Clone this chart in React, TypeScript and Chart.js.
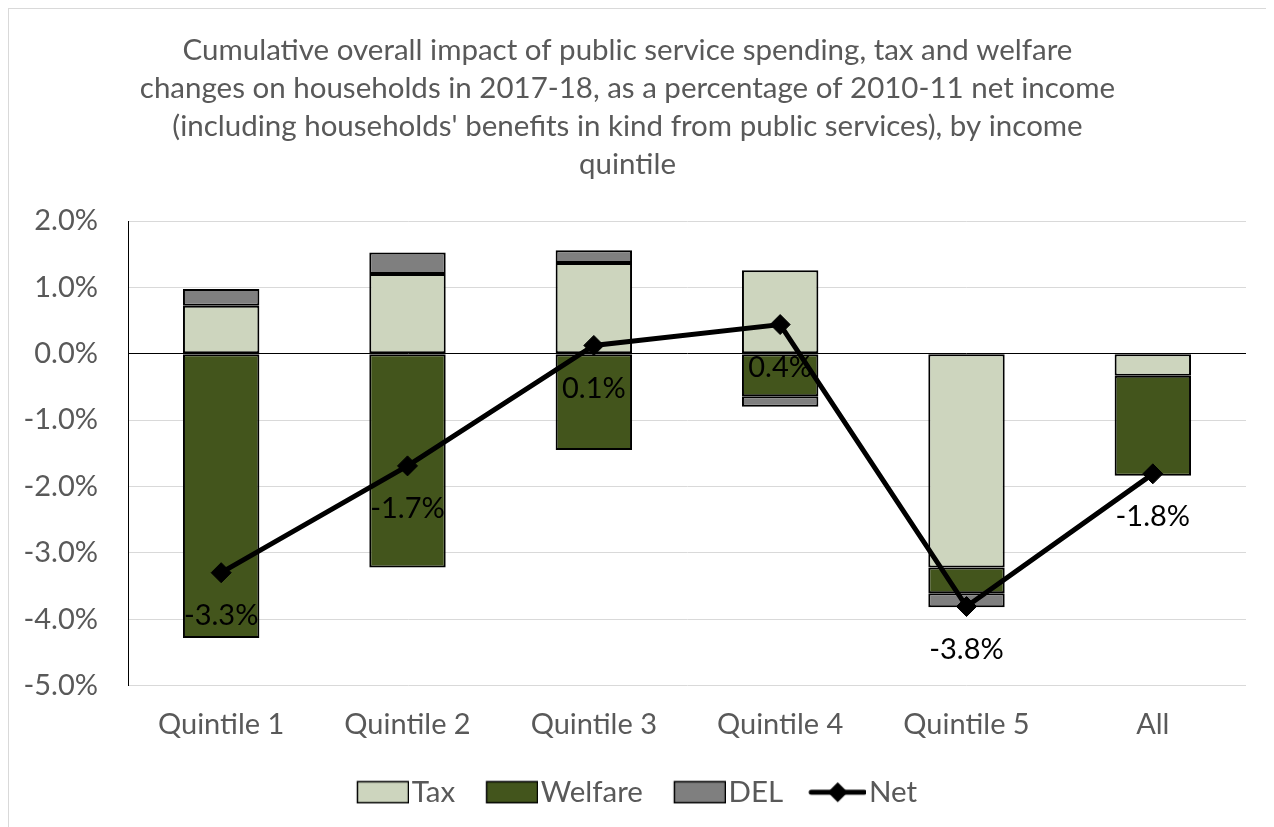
import React, { useEffect, useRef } from "react";
import { Chart, registerables } from "chart.js";

Chart.register(...registerables);

const categories = ["Quintile 1", "Quintile 2", "Quintile 3", "Quintile 4", "Quintile 5", "All"];
const taxValues = [0.725, 1.2, 1.366, 1.26, -3.22, -0.33];
const welfareValues = [-4.285, -3.22, -1.45, -0.64, -0.39, -1.51];
const delValues = [0.25, 0.325, 0.195, -0.16, -0.21, 0];
const netValues = [-3.3, -1.69, 0.125, 0.44, -3.81, -1.81];
const seriesNames = ["Tax", "Welfare", "DEL", "Net"];
const titleLines = [
  "Cumulative overall impact of public service spending, tax and welfare",
  "changes on households in 2017-18, as a percentage of 2010-11 net income",
  "(including households' benefits in kind from public services), by income",
  "quintile",
];
const yMin = -5;
const yMax = 2;
const yStep = 1;

const FONT = "Lato, 'Open Sans', sans-serif";
const TEXT_GREY = "#595959";
const COLORS = ["#CDD5BE", "#43551C", "#7F7F7F", "#000000"];

function makeBoxIcon(color: string): HTMLCanvasElement {
  const c = document.createElement("canvas");
  c.width = 83;
  c.height = 24;
  const ctx = c.getContext("2d")!;
  ctx.fillStyle = color;
  ctx.fillRect(31.5, 1.5, 51, 21);
  ctx.strokeStyle = "#000";
  ctx.lineWidth = 1.5;
  ctx.strokeRect(31.5, 1.5, 51, 21);
  return c;
}

function makeLineIcon(): HTMLCanvasElement {
  const c = document.createElement("canvas");
  c.width = 83;
  c.height = 24;
  const ctx = c.getContext("2d")!;
  ctx.strokeStyle = "#000";
  ctx.lineWidth = 5;
  ctx.lineCap = "round";
  ctx.beginPath();
  ctx.moveTo(28, 12);
  ctx.lineTo(81, 12);
  ctx.stroke();
  ctx.fillStyle = "#000";
  ctx.beginPath();
  ctx.moveTo(54.5, 2);
  ctx.lineTo(64.5, 12);
  ctx.lineTo(54.5, 22);
  ctx.lineTo(44.5, 12);
  ctx.closePath();
  ctx.fill();
  return c;
}

const netLabelPlugin = {
  id: "netLabels",
  afterDatasetsDraw(chart: any) {
    const meta = chart.getDatasetMeta(3);
    const ctx = chart.ctx;
    ctx.save();
    ctx.font = `29px ${FONT}`;
    ctx.fillStyle = "#000";
    ctx.textAlign = "center";
    ctx.textBaseline = "middle";
    meta.data.forEach((el: any, i: number) => {
      const v = netValues[i];
      ctx.fillText(v.toFixed(1) + "%", el.x, el.y + 43);
    });
    ctx.restore();
  },
};

export default function App() {
  const ref = useRef<HTMLCanvasElement | null>(null);

  useEffect(() => {
    if (!ref.current) return;
    const icons = [
      makeBoxIcon(COLORS[0]),
      makeBoxIcon(COLORS[1]),
      makeBoxIcon(COLORS[2]),
      makeLineIcon(),
    ];
    const barCommon = {
      type: "bar" as const,
      borderColor: "#000",
      borderWidth: 2,
      borderSkipped: false,
      categoryPercentage: 1,
      barPercentage: 0.41,
      stack: "s",
      order: 1,
    };
    const chart = new Chart(ref.current, {
      data: {
        labels: categories,
        datasets: [
          { ...barCommon, label: seriesNames[0], data: taxValues, backgroundColor: COLORS[0] },
          { ...barCommon, label: seriesNames[1], data: welfareValues, backgroundColor: COLORS[1] },
          { ...barCommon, label: seriesNames[2], data: delValues, backgroundColor: COLORS[2] },
          {
            type: "line",
            label: seriesNames[3],
            data: netValues,
            borderColor: "#000",
            backgroundColor: "#000",
            borderWidth: 5,
            pointStyle: "rectRot",
            pointRadius: 10,
            pointBorderWidth: 1,
            pointBackgroundColor: "#000",
            pointBorderColor: "#000",
            stack: "n",
            order: 0,
            tension: 0,
          } as any,
        ],
      },
      options: {
        animation: false,
        responsive: false,
        devicePixelRatio: 1,
        layout: { padding: { left: 0, right: 28, top: 0, bottom: 10 } },
        plugins: {
          tooltip: { enabled: false },
          title: {
            display: true,
            text: titleLines,
            color: TEXT_GREY,
            font: { family: FONT, size: 29.5, weight: "normal", lineHeight: 1.28 },
            padding: { top: 23, bottom: 38 },
          },
          legend: {
            position: "bottom",
            labels: {
              usePointStyle: true,
              pointStyleWidth: 59,
              padding: 12,
              color: TEXT_GREY,
              font: { family: FONT, size: 29.5 },
              generateLabels: () =>
                seriesNames.map((name, i) => ({
                  text: name,
                  pointStyle: icons[i],
                  fillStyle: "transparent",
                  strokeStyle: "transparent",
                  lineWidth: 0,
                  hidden: false,
                  datasetIndex: i,
                  fontColor: TEXT_GREY,
                })),
            },
          },
        },
        scales: {
          x: {
            stacked: true,
            grid: { display: false, drawTicks: false },
            border: { display: false },
            ticks: {
              color: TEXT_GREY,
              font: { family: FONT, size: 29 },
              padding: 22,
              maxRotation: 0,
            },
            afterFit: (s: any) => {
              s.height = 80;
            },
          },
          y: {
            stacked: true,
            min: yMin,
            max: yMax,
            grid: {
              drawTicks: false,
              lineWidth: 1,
              color: (c: any) => (c.tick && c.tick.value === 0 ? "#000" : "#D9D9D9"),
            },
            border: { display: true, color: "#000", width: 1 },
            ticks: {
              stepSize: yStep,
              color: TEXT_GREY,
              font: { family: FONT, size: 29 },
              padding: 30,
              callback: (v: any) => Number(v).toFixed(1) + "%",
            },
            afterFit: (s: any) => {
              s.width = 119;
            },
          },
        },
      },
      plugins: [netLabelPlugin],
    } as any);
    return () => chart.destroy();
  }, []);

  return (
    <div
      style={{
        width: 1266,
        height: 819,
        borderTop: "1px solid #D9D9D9",
        borderLeft: "1px solid #D9D9D9",
        boxSizing: "border-box",
        background: "#fff",
      }}
    >
      <canvas ref={ref} width={1265} height={818} style={{ display: "block" }} />
    </div>
  );
}
